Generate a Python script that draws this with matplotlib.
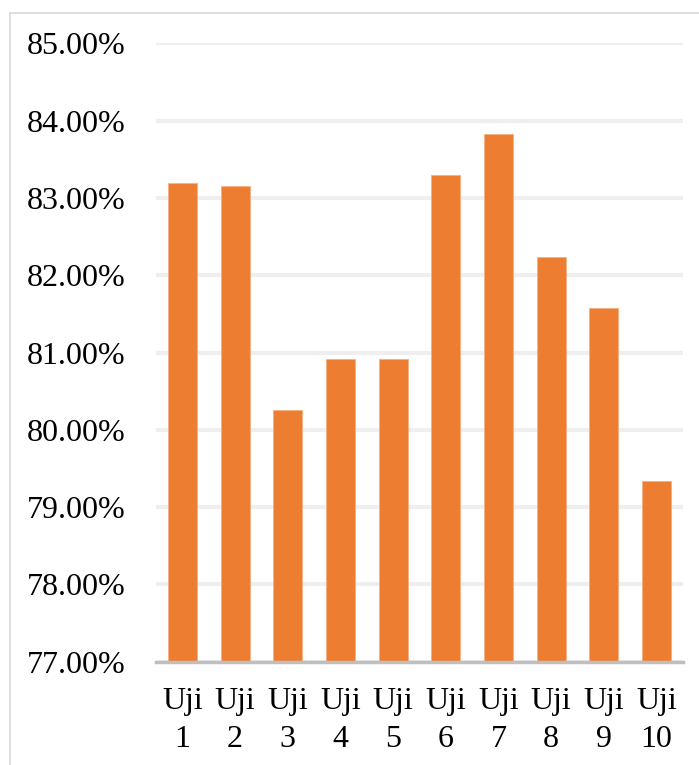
import numpy as np
import matplotlib.pyplot as plt
from matplotlib.lines import Line2D
from matplotlib.ticker import FuncFormatter

# data
labels = ["Uji\n1", "Uji\n2", "Uji\n3", "Uji\n4", "Uji\n5",
          "Uji\n6", "Uji\n7", "Uji\n8", "Uji\n9", "Uji\n10"]
akurasi = [83.19, 83.16, 80.26, 80.92, 80.92, 83.29, 83.83, 82.24, 81.58, 79.34]
yticks = [77, 78, 79, 80, 81, 82, 83, 84, 85]

plt.rcParams['font.family'] = ['Liberation Serif', 'DejaVu Serif']

fig = plt.figure(figsize=(6.99, 7.65), dpi=100)
ax = fig.add_axes([0.2232, 0.135, 0.9771 - 0.2232, 0.9434 - 0.135])

x = np.arange(len(labels))
ax.bar(x, akurasi, width=0.55, color='#ED7D31', edgecolor='#F4B183', linewidth=0.6, zorder=3)

ax.set_xlim(-0.5, len(labels) - 0.5)
ax.set_ylim(77, 85)
ax.set_yticks(yticks)
ax.yaxis.set_major_formatter(FuncFormatter(lambda v, p: "%.2f%%" % v))
ax.set_xticks(x)
ax.set_xticklabels(labels, linespacing=1.4)

ax.grid(axis='y', color='#EFEFEF', linewidth=3, zorder=0)
ax.tick_params(axis='both', length=0, labelsize=23)
ax.tick_params(axis='y', pad=22)
ax.tick_params(axis='x', pad=18)

for s in ['top', 'right', 'left']:
    ax.spines[s].set_visible(False)
ax.spines['bottom'].set_color('#BFBFBF')
ax.spines['bottom'].set_linewidth(2.5)
ax.spines['bottom'].set_zorder(4)

# chart frame (left and top edges visible)
fig.add_artist(Line2D([10 / 699, 10 / 699], [0, 1 - 12.5 / 765], color='#D9D9D9', linewidth=1.2))
fig.add_artist(Line2D([10 / 699, 1], [1 - 12.5 / 765, 1 - 12.5 / 765], color='#D9D9D9', linewidth=1.2))

plt.savefig("out.png", dpi=100)
